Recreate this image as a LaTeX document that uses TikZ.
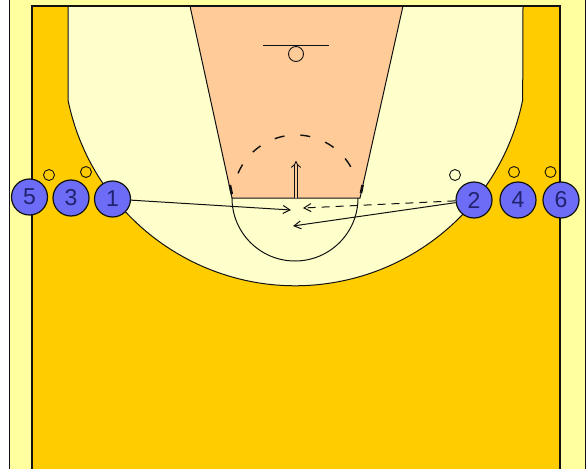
\documentclass[tikz,border=0pt]{standalone}
\usepackage{fontspec}
\setmainfont{Liberation Sans}
\usetikzlibrary{arrows.meta}
\definecolor{frameyel}{HTML}{FFFFA0}
\definecolor{courtor}{HTML}{FFCC00}
\definecolor{cream}{HTML}{FFFFCC}
\definecolor{peach}{HTML}{FFCC99}
\definecolor{pblue}{HTML}{6C6CF6}
\definecolor{pnum}{HTML}{22226E}
\definecolor{lineclr}{HTML}{111111}
\begin{document}
\begin{tikzpicture}[x=1pt,y=-1pt,
  courtline/.style={draw=lineclr,line width=1pt},
  player/.style={circle,draw=lineclr,line width=1.2pt,fill=pblue,minimum size=36pt,inner sep=0pt,
    text=pnum,font=\fontsize{23}{25}\selectfont},
  cone/.style={circle,draw=lineclr,line width=0.9pt,minimum size=11pt,inner sep=0pt},
  cut/.style={draw=lineclr,line width=1pt,-{Straight Barb[length=7pt,width=8pt]}},
  pass/.style={draw=lineclr,line width=1pt,dash pattern=on 8pt off 6pt,-{Straight Barb[length=7pt,width=8pt]}},
  dribblearrow/.style={draw=lineclr,double=peach,double distance=2.5pt,line width=0.9pt,-{Implies[length=6pt]}},
  block/.style={draw=lineclr,line width=2.6pt}]
\useasboundingbox (0,0) rectangle (588,468);
\fill[white] (0,0) rectangle (588,468);
% outer frame
\begin{scope}
\clip (0,0) rectangle (588,468);
\filldraw[fill=frameyel,draw=lineclr,line width=1pt] (9,-5) rectangle (585,475);
% court
\filldraw[fill=courtor,draw=lineclr,line width=1.3pt] (32,6) rectangle (560,480);
\end{scope}
% three point area
\filldraw[fill=cream,courtline] (68,6) -- (68,100)
  arc[start angle=191.5,end angle=348.5,radius=232pt] -- (523,6) -- cycle;
\draw[draw=lineclr,line width=1.3pt] (32,6) -- (560,6);
% lane
\coordinate (lanetl) at (190,6);
\coordinate (lanetr) at (403,6);
\coordinate (lanebl) at (232,198);
\coordinate (lanebr) at (360,198);
\filldraw[fill=peach,courtline] (lanetl) -- (lanebl) -- (lanebr) -- (lanetr);
\draw[draw=lineclr,line width=1.3pt] (lanetl) -- (lanetr);
% free throw circle
\coordinate (ft) at (296,198);
\draw[courtline] (lanebl) arc[start angle=180,end angle=360,radius=63pt];
\draw[draw=lineclr,line width=1.4pt,dash pattern=on 10pt off 16pt] (ft) ++(157:63pt) arc[start angle=157,end angle=20,radius=63pt];
% lane blocks
\draw[block] (229.9,185) -- (231.8,194);
\draw[block] (362.6,185) -- (361,193);
% basket
\coordinate (bbl) at (263,46);
\coordinate (bbr) at (329,46);
\draw[courtline] (bbl) -- (bbr);
\node[circle,draw=lineclr,line width=0.9pt,minimum size=15pt,inner sep=0pt] (rim) at (296,54) {};
% defenders / cones
\node[cone] (c5) at (49,175) {};
\node[cone] (c3) at (86,172) {};
\node[cone] (c2) at (455,175) {};
\node[cone] (c4) at (514,172) {};
\node[cone] (c6) at (550.5,172) {};
% players
\node[player] (p5) at (29.5,197) {5};
\node[player] (p3) at (71,198) {3};
\node[player] (p1) at (112.5,199) {1};
\node[player] (p2) at (474,200) {2};
\node[player] (p4) at (518,200) {4};
\node[player] (p6) at (561,200) {6};
% action targets
\coordinate (t1) at (291,210);
\coordinate (t2) at (303,208);
\coordinate (t3) at (293,226);
\coordinate (s4) at (296,198);
\coordinate (t4) at (296,161);
\draw[cut] (p1) -- (t1);
\draw[pass] (p2) -- (t2);
\draw[cut] (p2) -- (t3);
\draw[dribblearrow] (s4) -- (t4);
\end{tikzpicture}
\end{document}
